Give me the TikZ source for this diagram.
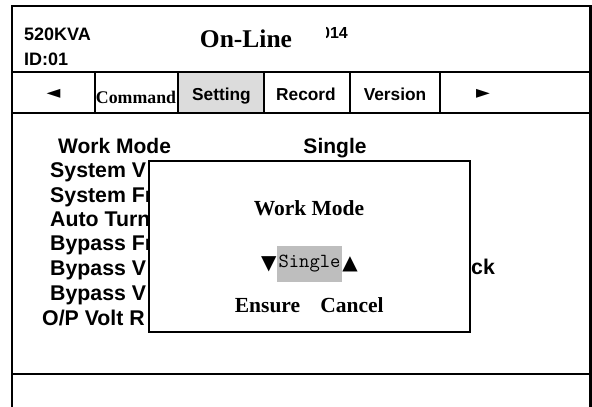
\documentclass[tikz,border=0pt]{standalone}
\usepackage{fontspec}
\setmainfont{Liberation Sans}
\newfontfamily\panelserif{Liberation Serif}
\newfontfamily\symfont{DejaVu Sans}
\usetikzlibrary{positioning, shadows}
\definecolor{tabgrey}{HTML}{DCDCDC}
\definecolor{selgrey}{HTML}{BEBEBE}

\begin{document}
\begin{tikzpicture}[
  x=1pt, y=-1pt,
  frameline/.style={line width=2.6pt},
  cellline/.style={line width=2.2pt},
  tab/.style={font=\fontsize{17.3}{20}\selectfont\bfseries, anchor=base, inner sep=0pt},
  item/.style={font=\fontsize{21.3}{24}\selectfont\bfseries, anchor=base west, inner sep=0pt},
  dlgtext/.style={font=\panelserif\fontsize{21.5}{24}\selectfont\bfseries, anchor=base, inner sep=0pt},
  arrowsym/.style={font=\symfont\fontsize{18}{20}\selectfont, inner sep=0pt}
]
\useasboundingbox (0,0) rectangle (592,407);

% Frame and rows
\coordinate (tl) at (12,6);
\coordinate (tr) at (590.5,6);
\coordinate (bl) at (12,407);
\coordinate (br) at (590.5,407);
\fill[tabgrey] (178,72) rectangle (264,113);
\draw[frameline] (bl) -- (tl) -- (tr) -- (br);
\draw[cellline] (12,72) coordinate (h1) -- (590.5,72) coordinate (h2);
\draw[cellline] (12,113) coordinate (t1) -- (590.5,113) coordinate (t2);
\draw[cellline] (12,374) coordinate (s1) -- (590.5,374) coordinate (s2);
\foreach \xs in {95,178,264,350,440}
  \draw[cellline] (\xs,72) -- (\xs,113);

% Header
\node[item, font=\fontsize{18}{20}\selectfont\bfseries] (kva) at (24,40) {520KVA};
\node[item, font=\fontsize{18}{20}\selectfont\bfseries] (id) at (24,65) {ID:01};
\node[font=\panelserif\fontsize{25.5}{28}\selectfont\bfseries, anchor=base, inner sep=0pt] (mode) at (246,47) {On-Line};
\begin{scope}
  \clip (326,15) rectangle (360,45);
  \node[font=\fontsize{16}{18}\selectfont\bfseries, anchor=base east, inner sep=0pt] (year) at (348,38) {2014};
\end{scope}

% Tabs
\node[arrowsym] (prev) at (53.5,94) {◄};
\node[tab, font=\panelserif\fontsize{17.8}{20}\selectfont\bfseries] (command) at (136,103) {Command};
\node[tab] (setting) at (221.5,100) {Setting};
\node[tab] (record) at (306,100) {Record};
\node[tab] (version) at (395,100) {Version};
\node[arrowsym] (next) at (483,94) {►};

% Settings list
\node[item, font=\fontsize{21}{24}\selectfont\bfseries] (workmode) at (58,153) {Work Mode};
\node[item, font=\fontsize{21}{24}\selectfont\bfseries, anchor=base] (workval) at (335,153) {Single};
\node[item] (sysv) at (50,177) {System V};
\node[item] (sysf) at (50,202) {System Fr};
\node[item] (auto) at (50,226) {Auto Turn};
\node[item] (bypf) at (50,250) {Bypass Fr};
\node[item] (bypv) at (50,275) {Bypass V};
\node[item] (bypw) at (50,300) {Bypass V};
\node[item] (opv) at (42,325) {O/P Volt R};
\node[item] (ckval) at (471,274) {ck};

% Dialog
\node[draw, fill=white, line width=2pt, minimum width=321pt, minimum height=171pt,
      drop shadow={shadow xshift=1pt, shadow yshift=-1.2pt, fill=black!35, opacity=1}] (dialog) at (309.5,246.5) {};
\node[dlgtext] (dlgtitle) at (309,215) {Work Mode};
\node[fill=selgrey, minimum width=65pt, minimum height=36pt, inner sep=0pt] (selbox) at (309.5,264) {};
\node[font=\ttfamily\fontsize{20}{22}\selectfont, inner sep=0pt] (selval) at (selbox) {Single};
\node[arrowsym, font=\symfont\fontsize{20}{22}\selectfont, left=0pt of selbox] (down) {▼};
\node[arrowsym, font=\symfont\fontsize{20}{22}\selectfont, right=0pt of selbox] (up) {▲};
\node[dlgtext] (ensure) at (267.5,312) {Ensure};
\node[dlgtext] (cancel) at (352,312) {Cancel};
\end{tikzpicture}
\end{document}
